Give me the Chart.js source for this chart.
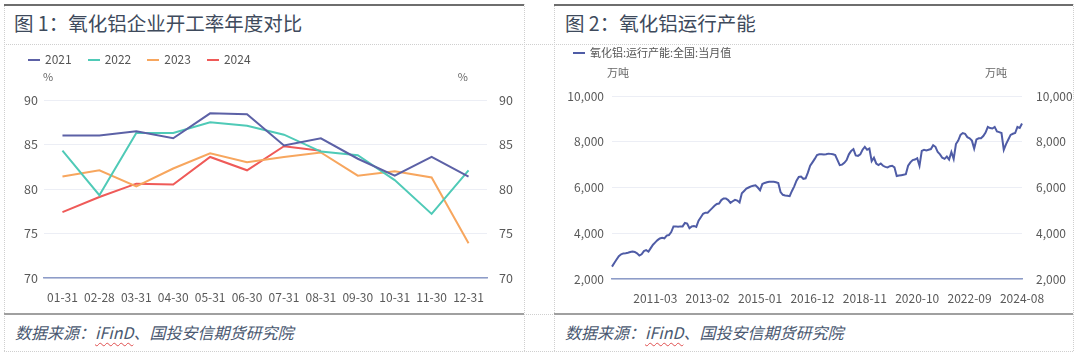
<!DOCTYPE html>
<html>
<head>
<meta charset="utf-8">
<script src="https://cdn.jsdelivr.net/npm/chart.js@4.4.1/dist/chart.umd.min.js"></script>
<style>
    body { margin: 0; background: #fff; font-family: "Noto Sans CJK SC", "Noto Sans", sans-serif; }
    .page { position: relative; width: 1080px; height: 361px; overflow: hidden; }
    .hline { position: absolute; left: 4px; width: 1069px; border-top: 1px dotted #cfcfcf; }
    .vline { position: absolute; top: 4px; height: 347px; border-left: 1px dotted #cfcfcf; }
    .topline { position: absolute; top: 4px; height: 0; border-top: 2px solid #6e6e6e; }
    .midline { position: absolute; top: 313px; height: 0; border-top: 2px solid #a0a0a0; }
    .title { position: absolute; top: 8px; font-size: 19.5px; color: #3e4a5c; white-space: nowrap; }
    .source { position: absolute; top: 320px; font-size: 16px; font-style: italic; color: #4a5870; white-space: nowrap; }
    .source u { text-decoration: underline wavy #e05050; text-decoration-thickness: 1px; text-underline-offset: 3px; }
    .chartBox { position: absolute; top: 44px; height: 270px; }
    .legend { position: absolute; font-size: 12px; color: #555; white-space: nowrap; }
    .legend span.item { display: inline-block; margin-right: 16px; }
    .legend span.mark { display: inline-block; width: 12px; height: 2px; vertical-align: middle; margin-right: 5px; position: relative; top: -1px; }
</style>
</head>
<body>
<div class="page">
    <div class="hline" style="top:44px"></div>
    <div class="hline" style="top:314px"></div>
    <div class="hline" style="top:351px"></div>
    <div class="vline" style="left:4px"></div>
    <div class="vline" style="left:524px"></div>
    <div class="vline" style="left:554px"></div>
    <div class="vline" style="left:1073px"></div>
    <div class="topline" style="left:4px;width:520px"></div>
    <div class="topline" style="left:554px;width:519px"></div>
    <div class="midline" style="left:4px;width:520px"></div>
    <div class="midline" style="left:554px;width:519px"></div>

    <div class="title" style="left:14px">图 1：氧化铝企业开工率年度对比</div>
    <div class="title" style="left:565px">图 2：氧化铝运行产能</div>

    <div class="chartBox" style="left:4px;width:520px"><canvas id="rateChart"></canvas></div>
    <div class="chartBox" style="left:554px;width:519px"><canvas id="capChart"></canvas></div>
    <div class="legend" id="rateLegend" style="left:28px;top:50px"></div>
    <div class="legend" id="capLegend" style="left:573px;top:44px;font-size:11px"></div>

    <div class="source" style="left:15px">数据来源：<u>iFinD</u>、国投安信期货研究院</div>
    <div class="source" style="left:565px">数据来源：<u>iFinD</u>、国投安信期货研究院</div>
</div>

<script>
// 图1 开工率 (%)
var rateDays = ['01-31', '02-28', '03-31', '04-30', '05-31', '06-30', '07-31', '08-31', '09-30', '10-31', '11-30', '12-31'];
var rateYears = ['2021', '2022', '2023', '2024'];
var rate2021 = [86.0, 86.0, 86.5, 85.7, 88.5, 88.4, 84.9, 85.7, 83.4, 81.5, 83.6, 81.4];
var rate2022 = [84.3, 79.3, 86.3, 86.3, 87.5, 87.1, 86.1, 84.2, 83.8, 81.0, 77.2, 82.1];
var rate2023 = [81.4, 82.1, 80.3, 82.3, 84.0, 83.0, 83.6, 84.1, 81.5, 82.0, 81.3, 73.9];
var rate2024 = [77.4, 79.1, 80.6, 80.5, 83.6, 82.1, 84.8, 84.3];
var rateTicks = [70, 75, 80, 85, 90];

// 图2 运行产能 (万吨), 月度 2009-08 ~ 2024-08
var capStart = [2009, 8];
var capValues = [
    2540, 2700, 2850, 3000, 3080, 3120, 3130, 3150, 3180, 3200,
    3180, 3120, 3030, 3080, 3220, 3260, 3200, 3350, 3500, 3600,
    3700, 3770, 3800, 3780, 3900, 3920, 4050, 4300, 4300, 4280,
    4300, 4300, 4450, 4420, 4220, 4300, 4320, 4280, 4550, 4700,
    4850, 4900, 4900, 5000, 5100, 5200, 5280, 5300, 5450, 5520,
    5520, 5450, 5330, 5400, 5460, 5430, 5350, 5750, 5850, 5950,
    6000, 6050, 6080, 6100, 6000, 5880, 6150, 6200, 6230, 6250,
    6250, 6250, 6230, 6200, 5800, 5680, 5650, 5640, 5620, 5850,
    6050, 6300, 6460, 6480, 6380, 6400, 6650, 6950, 7100, 7250,
    7420, 7450, 7450, 7440, 7450, 7480, 7470, 7450, 7420, 7200,
    6980, 7000, 7080, 7200, 7450, 7600, 7680, 7400, 7380, 7450,
    7650, 7780, 7650, 7700, 7150, 7300, 7050, 6980, 7050, 6950,
    6900, 6880, 6930, 6950, 6880, 6500, 6520, 6540, 6560, 6580,
    6950, 7100, 7200, 7220, 7280, 6950, 7600, 7650, 7620, 7650,
    7680, 7850, 7780, 7550, 7450, 7300, 7250, 7350, 7220, 7550,
    7250, 7900, 8050, 8300, 8380, 8350, 8200, 8150, 8050, 7700,
    8100, 8150, 8150, 8250, 8400, 8650, 8600, 8580, 8650, 8450,
    8420, 8380, 7650, 7900, 8100, 8300, 8350, 8380, 8650, 8600,
    8800
];
var capTicks = [2000, 4000, 6000, 8000, 10000];
var capTickEvery = 23;

var capLabels = [];
(function () {
    var y = capStart[0], m = capStart[1];
    for (var i = 0; i < capValues.length; i++) {
        capLabels.push(y + '-' + (m < 10 ? '0' + m : m));
        m++;
        if (m > 12) { m = 1; y++; }
    }
})();

var FONT = '"Noto Sans CJK SC", "Noto Sans", sans-serif';
var tickColor = '#595959';
var gridColor = '#eceef5';
var axisColor = '#8d9cc8';

// legend kept in html, built from chart's own legend items
var htmlLegend = {
    id: 'htmlLegend',
    afterUpdate: function (chart, args, opts) {
        var box = document.getElementById(opts.containerID);
        box.innerHTML = '';
        var items = chart.options.plugins.legend.labels.generateLabels(chart);
        items.forEach(function (item) {
            var span = document.createElement('span');
            span.className = 'item';
            span.innerHTML = '<span class="mark" style="background:' + item.strokeStyle + '"></span>' + item.text;
            box.appendChild(span);
        });
    }
};

// unit text above both y axes
var unitText = {
    id: 'unitText',
    afterDraw: function (chart, args, opts) {
        var ctx = chart.ctx, a = chart.chartArea;
        ctx.save();
        ctx.font = '11px ' + FONT;
        ctx.fillStyle = '#666';
        ctx.textBaseline = 'middle';
        ctx.textAlign = 'left';
        ctx.fillText(opts.text, a.left + opts.dxLeft, a.top - opts.dy);
        ctx.textAlign = 'right';
        ctx.fillText(opts.text, a.right + opts.dxRight, a.top - opts.dy);
        ctx.restore();
    }
};

var fixWidth = function (w) { return function (scale) { scale.width = w; }; };
var fixHeight = function (h) { return function (scale) { scale.height = h; }; };

var tickList = function (list) {
    return function (scale) { scale.ticks = list.map(function (v) { return { value: v }; }); };
};

var initRateChart = function () {
    var series = [rate2021, rate2022, rate2023, rate2024];
    var colors = ['#5c61a6', '#4fcab7', '#f7a65e', '#ef5a58'];
    var datasets = [];
    for (var i = 0; i < rateYears.length; i++) {
        datasets.push({
            label: rateYears[i],
            data: series[i],
            borderColor: colors[i],
            backgroundColor: colors[i],
            borderWidth: 2,
            pointRadius: 0,
            tension: 0,
            yAxisID: 'y'
        });
    }
    new Chart(document.getElementById('rateChart'), {
        type: 'line',
        data: { labels: rateDays, datasets: datasets },
        options: {
            responsive: true,
            maintainAspectRatio: false,
            animation: false,
            layout: { padding: { top: 56, left: 0, right: 0, bottom: 0 } },
            plugins: {
                legend: { display: false },
                tooltip: { enabled: false },
                htmlLegend: { containerID: 'rateLegend' },
                unitText: { text: '%', dxLeft: -1, dxRight: -19, dy: 23 }
            },
            scales: {
                x: {
                    offset: true,
                    grid: { display: false },
                    border: { display: true, color: axisColor, width: 1.5 },
                    ticks: { color: tickColor, font: { family: FONT, size: 12 }, maxRotation: 0, autoSkip: false, padding: 4 },
                    afterFit: fixHeight(36)
                },
                y: {
                    position: 'left',
                    min: 70, max: 90,
                    afterBuildTicks: tickList(rateTicks),
                    grid: { color: gridColor, drawTicks: false },
                    border: { display: false },
                    ticks: { color: tickColor, font: { family: FONT, size: 12.5 }, padding: 6 },
                    afterFit: fixWidth(40)
                },
                y2: {
                    position: 'right',
                    min: 70, max: 90,
                    afterBuildTicks: tickList(rateTicks),
                    grid: { display: false },
                    border: { display: false },
                    ticks: { color: tickColor, font: { family: FONT, size: 12.5 }, padding: 4 },
                    afterFit: fixWidth(37)
                }
            }
        },
        plugins: [htmlLegend, unitText]
    });
};

var initCapChart = function () {
    var n = capLabels.length;
    new Chart(document.getElementById('capChart'), {
        type: 'line',
        data: {
            labels: capLabels,
            datasets: [{
                label: '氧化铝:运行产能:全国:当月值',
                data: capValues,
                borderColor: '#4f5ca6',
                backgroundColor: '#4f5ca6',
                borderWidth: 2,
                pointRadius: 0,
                tension: 0,
                yAxisID: 'y'
            }]
        },
        options: {
            responsive: true,
            maintainAspectRatio: false,
            animation: false,
            layout: { padding: { top: 52, left: 0, right: 0, bottom: 0 } },
            plugins: {
                legend: { display: false },
                tooltip: { enabled: false },
                htmlLegend: { containerID: 'capLegend' },
                unitText: { text: '万吨', dxLeft: -5, dxRight: -15, dy: 23 }
            },
            scales: {
                x: {
                    offset: false,
                    grid: { display: false },
                    border: { display: true, color: axisColor, width: 1.5 },
                    ticks: {
                        color: tickColor, font: { family: FONT, size: 12 }, maxRotation: 0, autoSkip: false, padding: 4,
                        callback: function (val, index) {
                            return (n - 1 - index) % capTickEvery === 0 ? capLabels[index] : '';
                        }
                    },
                    afterFit: fixHeight(35)
                },
                y: {
                    position: 'left',
                    min: 2000, max: 10000,
                    afterBuildTicks: tickList(capTicks),
                    grid: { color: gridColor, drawTicks: false },
                    border: { display: false },
                    ticks: {
                        color: tickColor, font: { family: FONT, size: 12 }, padding: 8,
                        callback: function (v) { return v.toLocaleString('en-US'); }
                    },
                    afterFit: fixWidth(58)
                },
                y2: {
                    position: 'right',
                    min: 2000, max: 10000,
                    afterBuildTicks: tickList(capTicks),
                    grid: { display: false },
                    border: { display: false },
                    ticks: {
                        color: tickColor, font: { family: FONT, size: 12 }, padding: 6,
                        callback: function (v) { return v.toLocaleString('en-US'); }
                    },
                    afterFit: fixWidth(51)
                }
            }
        },
        plugins: [htmlLegend, unitText]
    });
};

initRateChart();
initCapChart();
</script>
</body>
</html>
